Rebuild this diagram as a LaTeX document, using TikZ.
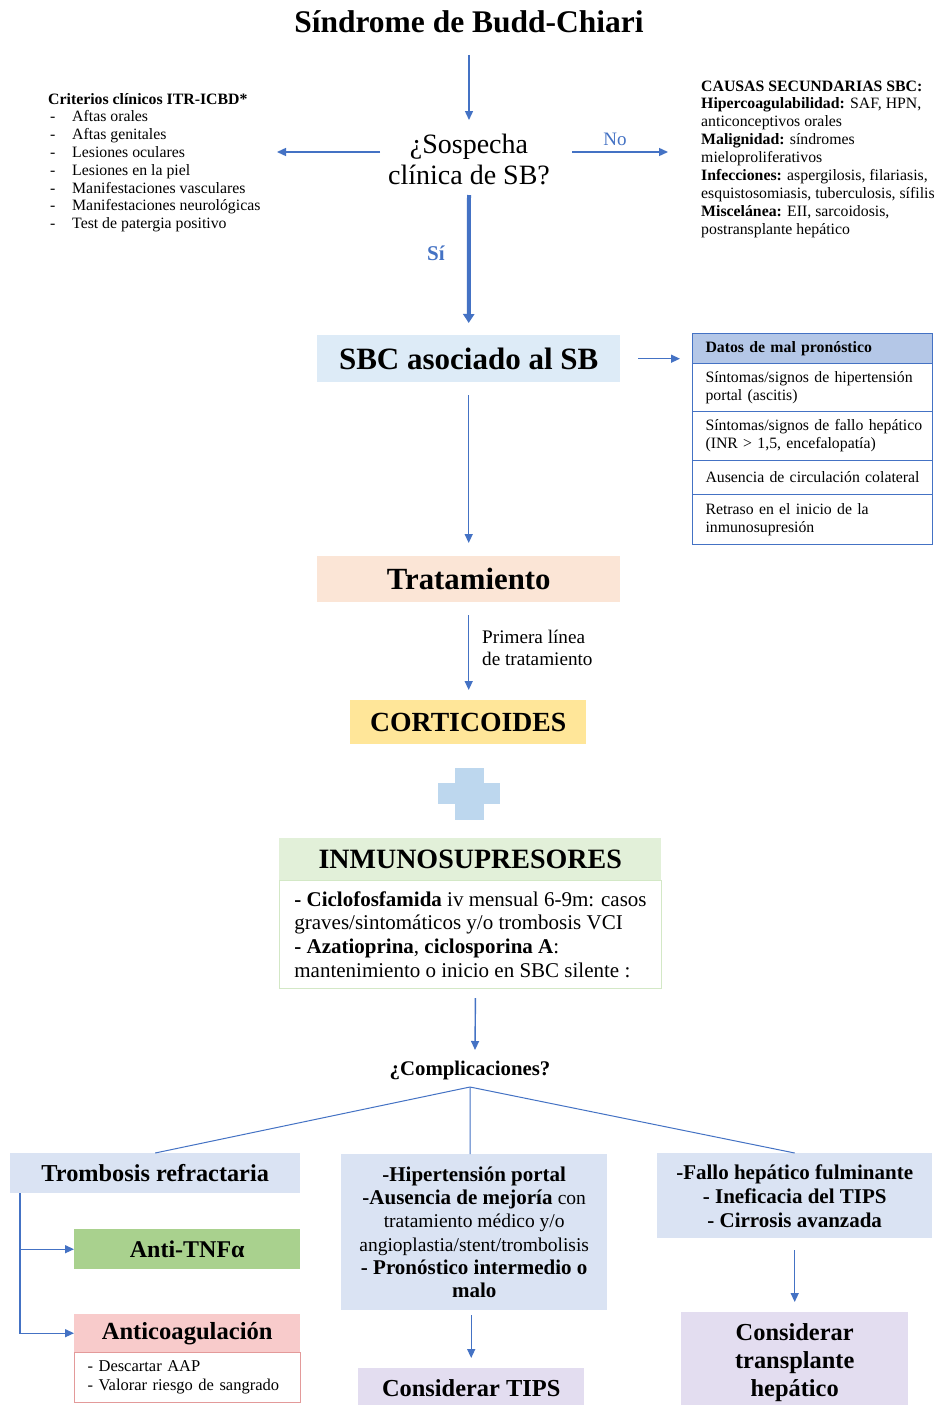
\documentclass[tikz,border=0pt]{standalone}
\usepackage{fontspec}
\setmainfont{Liberation Serif}
\usetikzlibrary{arrows.meta}
\definecolor{ablue}{HTML}{4472C4}
\definecolor{sbcfill}{HTML}{DDEBF7}
\definecolor{tratfill}{HTML}{FBE5D6}
\definecolor{cortfill}{HTML}{FFE699}
\definecolor{plusfill}{HTML}{BDD7EE}
\definecolor{inmfill}{HTML}{E2F0D9}
\definecolor{inmline}{HTML}{D3E8C6}
\definecolor{compfill}{HTML}{DAE3F3}
\definecolor{antifill}{HTML}{A9D18E}
\definecolor{acfill}{HTML}{F8CBCB}
\definecolor{acline}{HTML}{E39A9A}
\definecolor{lavfill}{HTML}{E3DDF0}
\definecolor{thfill}{HTML}{B4C7E7}
\newcommand\fsz[2]{\fontsize{#1}{#2}\selectfont}
\begin{document}
\begin{tikzpicture}[x=1pt,y=-1pt,
  arr/.style={draw=ablue, line width=1.4pt, -{Triangle[length=9pt,width=8pt]}},
  thickarr/.style={draw=ablue, line width=4pt, -{Triangle[length=9pt,width=11pt]}},
  cline/.style={draw=ablue, line width=1pt},
  box/.style={rectangle, inner sep=0pt, anchor=north west, align=center},
  cell/.style={rectangle, draw=ablue, line width=1pt, anchor=north west, minimum width=240pt, inner sep=0pt, text width=227pt, align=left, font=\fsz{15.8}{18}, execute at begin node={\leftskip=6.5pt\relax}},
  lbl/.style={inner sep=0pt}
]
\fill[white] (0,0) rectangle (936,1405);
\useasboundingbox (0,0) rectangle (936,1405);

% title and question
\node[lbl, font=\bfseries\fsz{31.5}{36}] (title) at (469,22) {Síndrome de Budd-Chiari};
\node[lbl, font=\fsz{28}{31}, align=center] (q) at (469,159) {¿Sospecha\\clínica de SB?};
\draw[arr] ([yshift=-33pt]title.center) -- ([yshift=39pt]q.center);

% side texts
\node[lbl, anchor=base west, font=\fsz{15.8}{17.8}] (crit) at (48,104) {\begin{tabular}[t]{@{}l@{}}
\textbf{Criterios clínicos ITR-ICBD*}\\
\makebox[24pt][l]{\hspace{2pt}-}Aftas orales\\
\makebox[24pt][l]{\hspace{2pt}-}Aftas genitales\\
\makebox[24pt][l]{\hspace{2pt}-}Lesiones oculares\\
\makebox[24pt][l]{\hspace{2pt}-}Lesiones en la piel\\
\makebox[24pt][l]{\hspace{2pt}-}Manifestaciones vasculares\\
\makebox[24pt][l]{\hspace{2pt}-}Manifestaciones neurológicas\\
\makebox[24pt][l]{\hspace{2pt}-}Test de patergia positivo
\end{tabular}};
\node[lbl, anchor=base west, font=\fsz{15.8}{17.9}] (caus) at (701,91) {\begin{tabular}[t]{@{}l@{}}
\textbf{CAUSAS SECUNDARIAS SBC:}\\
\textbf{Hipercoagulabilidad:} SAF, HPN,\\
anticonceptivos orales\\
\textbf{Malignidad:} síndromes\\
mieloproliferativos\\
\textbf{Infecciones:} aspergilosis, filariasis,\\
esquistosomiasis, tuberculosis, sífilis\\
\textbf{Miscelánea:} EII, sarcoidosis,\\
postransplante hepático
\end{tabular}};
\coordinate (critin) at (277,152);
\coordinate (causin) at (668,152);
\draw[arr] ([shift={(-89,-7)}]q.center) -- (critin);
\draw[arr] ([shift={(103,-7)}]q.center) -- (causin);
\node[lbl, text=ablue, font=\fsz{19}{22}] (no) at (615,139) {No};

% SBC
\node[box, fill=sbcfill, minimum width=303pt, minimum height=47pt, font=\bfseries\fsz{31}{36}] (sbc) at (317,335) {SBC asociado al SB};
\draw[thickarr, shorten >=12pt] ([yshift=-36pt]q.center) -- (sbc.north);
\node[lbl, text=ablue, font=\bfseries\fsz{21}{24}] (si) at (436,253) {Sí};

% table
\node[cell, fill=thfill, minimum height=30pt, font=\bfseries\fsz{15.8}{18}] (th) at (692,333) {Datos de mal pronóstico};
\node[cell, minimum height=48pt] (r1) at (692,363) {Síntomas/signos de hipertensión\\portal (ascitis)};
\node[cell, minimum height=49pt] (r2) at (692,411) {Síntomas/signos de fallo hepático\\(INR > 1,5, encefalopatía)};
\node[cell, minimum height=34pt] (r3) at (692,460) {Ausencia de circulación colateral};
\node[cell, minimum height=50pt] (r4) at (692,494) {Retraso en el inicio de la\\inmunosupresión};
\draw[arr, shorten <=18pt, shorten >=12pt] (sbc.east) -- (sbc.east -| th.west);

% treatment
\node[box, fill=tratfill, minimum width=303pt, minimum height=46pt, font=\bfseries\fsz{30.8}{36}] (trat) at (317,556) {Tratamiento};
\draw[arr, shorten <=13pt, shorten >=13pt] (sbc.south) -- (trat.north);
\node[box, fill=cortfill, minimum width=236pt, minimum height=44pt, font=\bfseries\fsz{27.7}{32}] (cort) at (350,700) {CORTICOIDES};
\draw[arr, shorten <=13pt, shorten >=10pt] (trat.south) -- (trat.south |- cort.north);
\node[lbl, anchor=west, align=left, font=\fsz{19.2}{22}] (primera) at (482,648) {Primera línea\\de tratamiento};

% plus
\fill[plusfill] (438,783) rectangle (500,804);
\fill[plusfill] (455,768) rectangle (484,820);

% immunosuppressors
\node[box, fill=inmfill, minimum width=382pt, minimum height=42pt, font=\bfseries\fsz{28}{32}] (inmh) at (279,838) {INMUNOSUPRESORES};
\node[box, draw=inmline, line width=1pt, minimum width=382pt, minimum height=108pt, align=left, font=\fsz{21}{23.7}] (inmb) at (279,880) {\textbf{- Ciclofosfamida} iv mensual 6-9m: casos\\graves/sintomáticos y/o trombosis VCI\\\textbf{- Azatioprina}, \textbf{ciclosporina A}:\\mantenimiento o inicio en SBC silente :};

\node[lbl, font=\bfseries\fsz{20.8}{24}] (compl) at (470,1070) {¿Complicaciones?};
\draw[arr, shorten <=9pt] ([xshift=5pt]inmb.south) -- ([shift={(5,-20)}]compl.center);

% bottom boxes
\node[box, fill=compfill, minimum width=290pt, minimum height=40pt, font=\bfseries\fsz{24.3}{28}] (tromb) at (10,1153) {Trombosis refractaria};
\node[box, fill=antifill, minimum width=226pt, minimum height=40pt, font=\bfseries\fsz{24}{28}] (anti) at (74,1229) {Anti-TNFα};
\node[box, fill=acfill, minimum width=226pt, minimum height=38pt, font=\bfseries\fsz{24.6}{28}] (antic) at (74,1314) {Anticoagulación};
\node[box, draw=acline, line width=1.2pt, fill=white, minimum width=226pt, minimum height=50pt, text width=200pt, align=left, font=\fsz{16.5}{19}] (anticb) at (74,1352) {- Descartar AAP\\- Valorar riesgo de sangrado};
\draw[arr] ([xshift=10pt]tromb.south west) |- (anti.west);
\draw[arr] ([xshift=10pt]tromb.south west) |- (antic.west);

\node[box, fill=compfill, minimum width=266pt, minimum height=156pt, font=\bfseries\fsz{21}{23.3}] (hip) at (341,1154) {-Hipertensión portal\\-Ausencia de mejoría {\mdseries\fsz{19.5}{23.3}con}\\{\mdseries\fsz{19.5}{23.3}tratamiento médico y/o}\\{\mdseries\fsz{19.5}{23.3}angioplastia/stent/trombolisis}\\- Pronóstico intermedio o\\malo};
\node[box, fill=lavfill, minimum width=226pt, minimum height=40pt, font=\bfseries\fsz{24.4}{28}] (tips) at (358,1368) {Considerar TIPS};
\draw[arr, shorten <=5pt, shorten >=10pt] (hip.south -| tips.north) -- (tips.north);

\node[box, fill=compfill, minimum width=275pt, minimum height=85pt, font=\bfseries\fsz{21}{24}] (fallo) at (657,1153) {-Fallo hepático fulminante\\- Ineficacia del TIPS\\- Cirrosis avanzada};
\node[box, fill=lavfill, minimum width=227pt, minimum height=100pt, font=\bfseries\fsz{24.4}{28}] (trans) at (681,1312) {Considerar\\transplante\\hepático};
\draw[arr, shorten <=12pt, shorten >=10pt] (fallo.south) -- (trans.north);

\draw[cline] ([yshift=-17pt]compl.center) -- (tromb.north);
\draw[cline] ([yshift=-17pt]compl.center) -- ([xshift=-4pt]hip.north);
\draw[cline] ([yshift=-17pt]compl.center) -- (fallo.north);
\end{tikzpicture}
\end{document}
